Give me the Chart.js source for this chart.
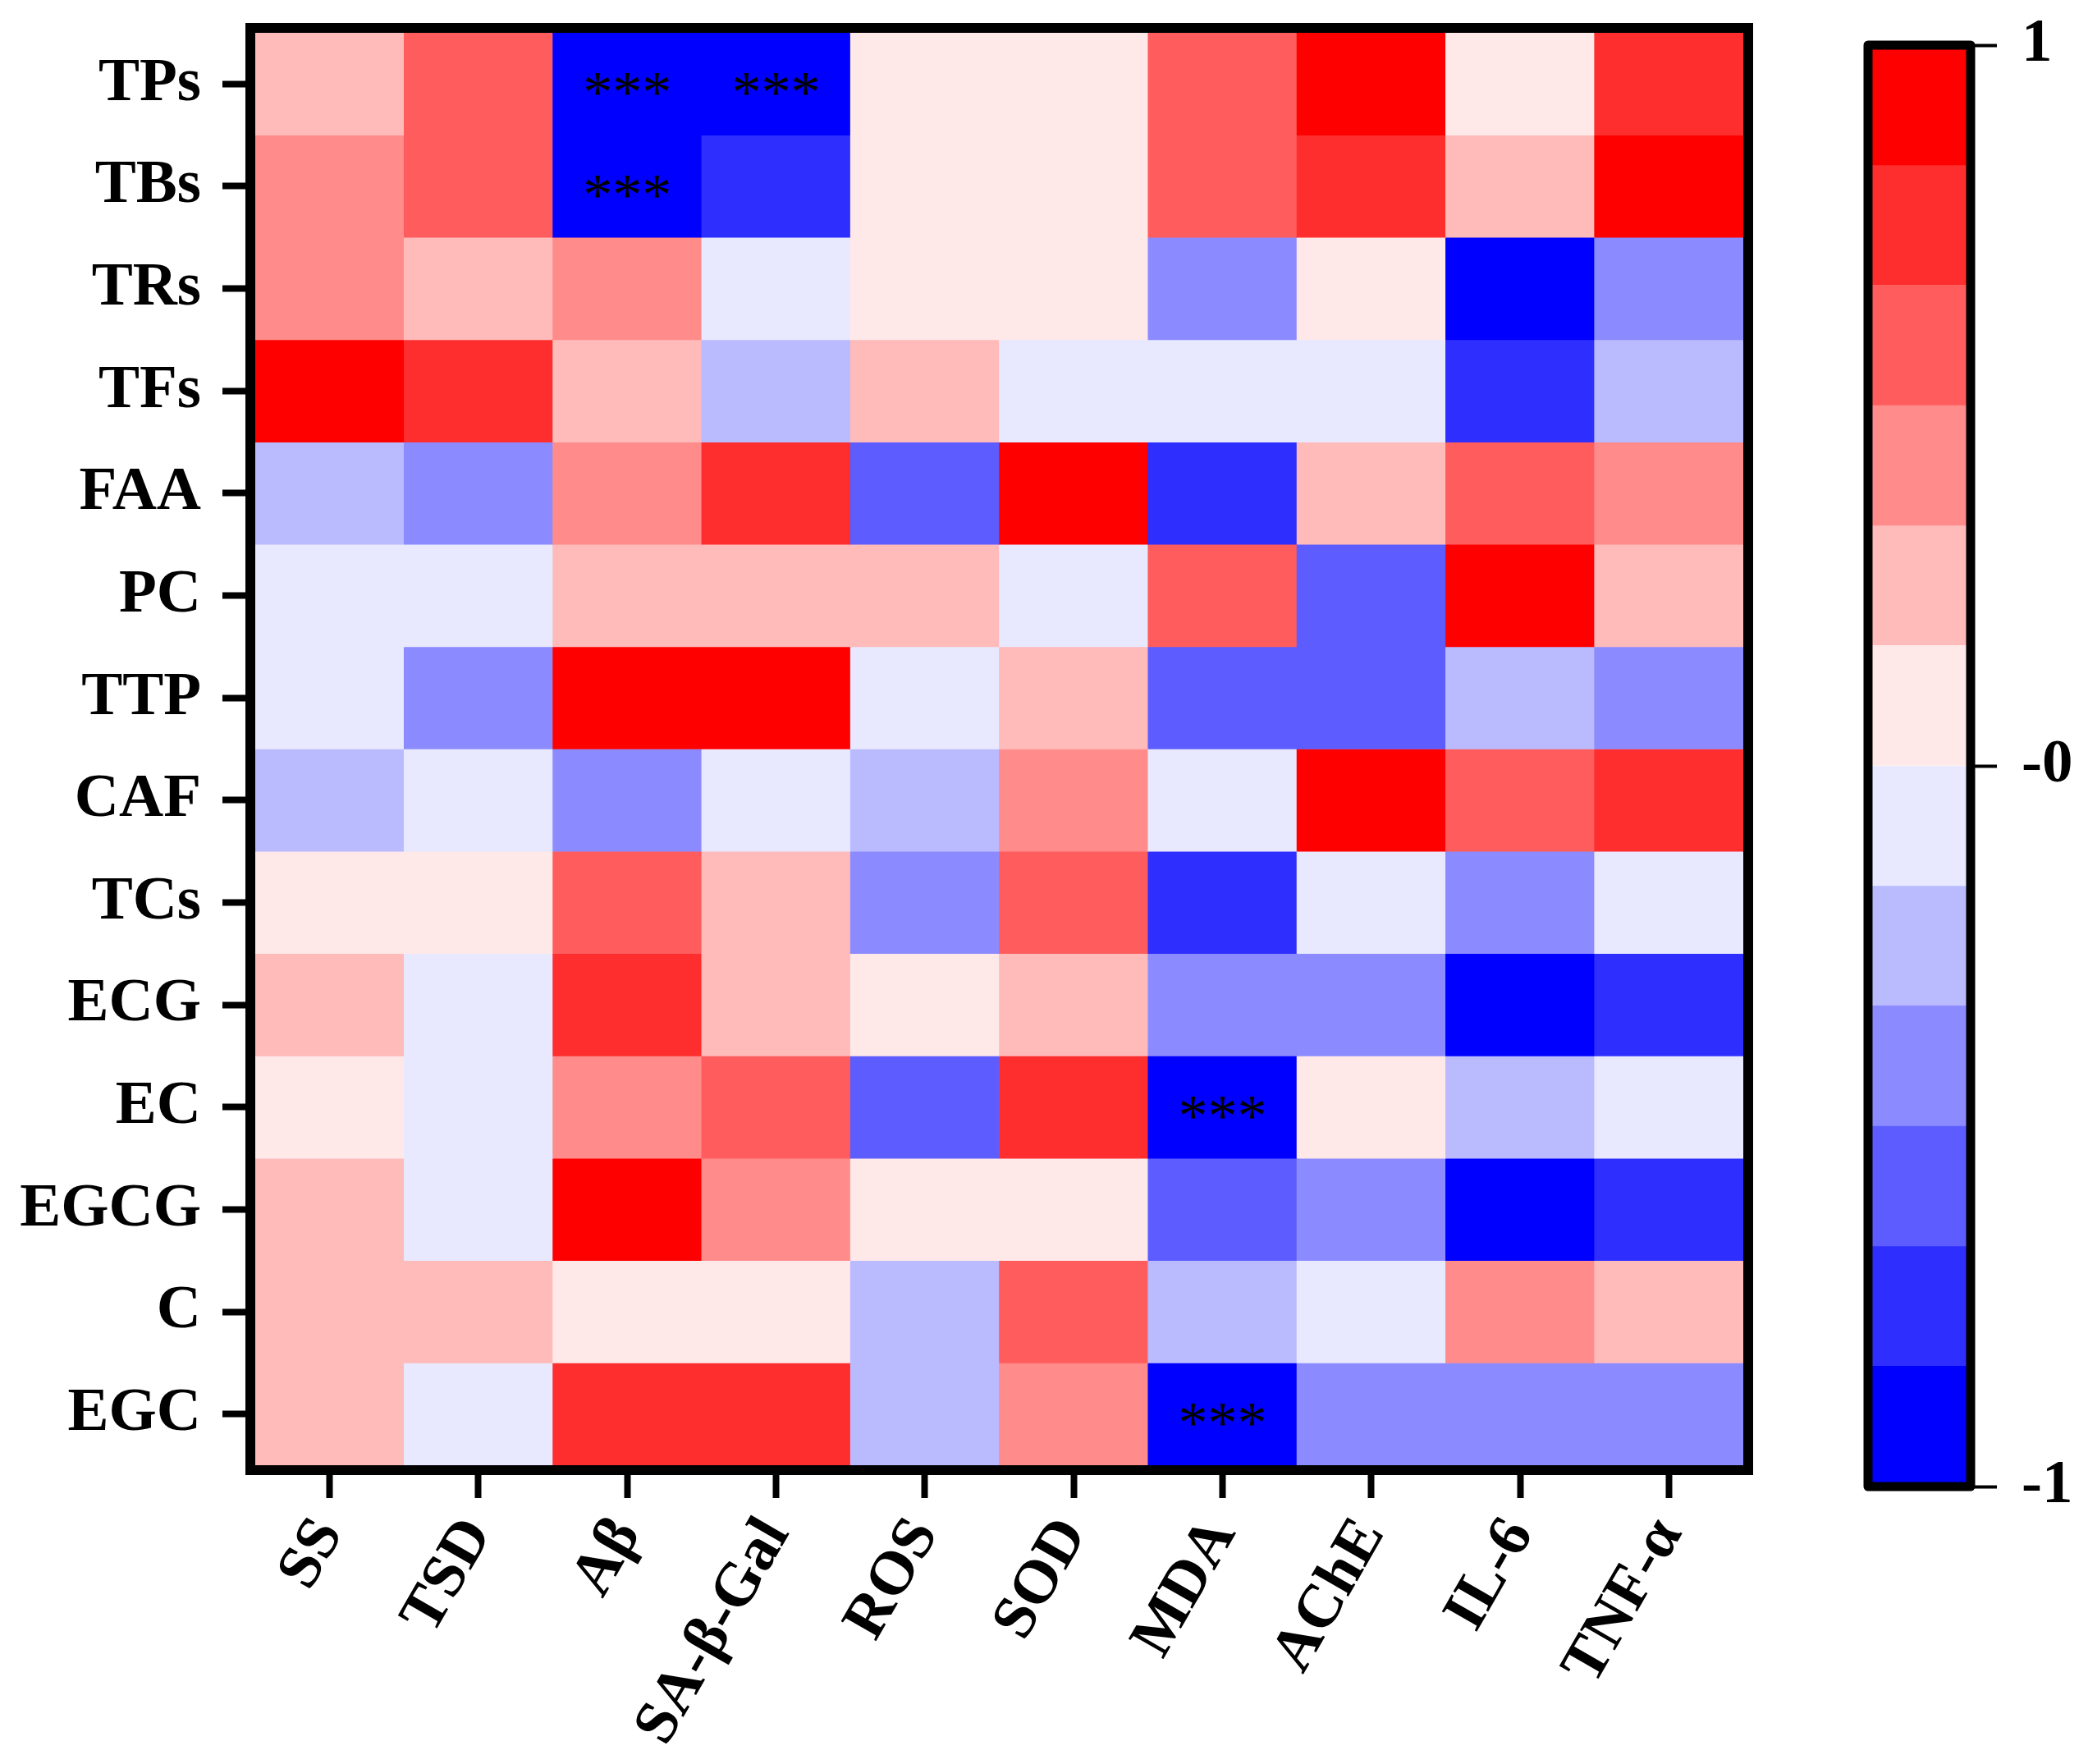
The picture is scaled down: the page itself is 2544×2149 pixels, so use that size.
<!DOCTYPE html>
<html>
<head>
<meta charset="utf-8">
<script src="https://cdn.jsdelivr.net/npm/chart.js@4.4.1/dist/chart.umd.min.js"></script>
<style>
  html, body { margin: 0; padding: 0; background: #fff; }
  #wrap { position: relative; width: 2544px; height: 2149px; }
  #heat { position: absolute; left: 0; top: 0; }
  #bar { position: absolute; left: 2200px; top: 0; }
</style>
</head>
<body>
<div id="wrap">
  <canvas id="heat" width="2200" height="2149"></canvas>
  <canvas id="bar" width="344" height="2149"></canvas>
</div>
<script>
const rowLabels = ['TPs', 'TBs', 'TRs', 'TFs', 'FAA', 'PC', 'TTP', 'CAF', 'TCs', 'ECG', 'EC', 'EGCG', 'C', 'EGC'];
const colLabels = ['SS', 'TSD', 'Aβ', 'SA-β-Gal', 'ROS', 'SOD', 'MDA', 'AChE', 'IL-6', 'TNF-α'];

// correlation of each row with the columns above
const TPs  = [0.25, 0.58, -0.92, -0.92, 0.08, 0.08, 0.58, 0.92, 0.08, 0.75];
const TBs  = [0.42, 0.58, -0.92, -0.75, 0.08, 0.08, 0.58, 0.75, 0.25, 0.92];
const TRs  = [0.42, 0.25, 0.42, -0.08, 0.08, 0.08, -0.42, 0.08, -0.92, -0.42];
const TFs  = [0.92, 0.75, 0.25, -0.25, 0.25, -0.08, -0.08, -0.08, -0.75, -0.25];
const FAA  = [-0.25, -0.42, 0.42, 0.75, -0.58, 0.92, -0.75, 0.25, 0.58, 0.42];
const PC   = [-0.08, -0.08, 0.25, 0.25, 0.25, -0.08, 0.58, -0.58, 0.92, 0.25];
const TTP  = [-0.08, -0.42, 0.92, 0.92, -0.08, 0.25, -0.58, -0.58, -0.25, -0.42];
const CAF  = [-0.25, -0.08, -0.42, -0.08, -0.25, 0.42, -0.08, 0.92, 0.58, 0.75];
const TCs  = [0.08, 0.08, 0.58, 0.25, -0.42, 0.58, -0.75, -0.08, -0.42, -0.08];
const ECG  = [0.25, -0.08, 0.75, 0.25, 0.08, 0.25, -0.42, -0.42, -0.92, -0.75];
const EC   = [0.08, -0.08, 0.42, 0.58, -0.58, 0.75, -0.92, 0.08, -0.25, -0.08];
const EGCG = [0.25, -0.08, 0.92, 0.42, 0.08, 0.08, -0.58, -0.42, -0.92, -0.75];
const C    = [0.25, 0.25, 0.08, 0.08, -0.25, 0.58, -0.25, -0.08, 0.42, 0.25];
const EGC  = [0.25, -0.08, 0.75, 0.75, -0.25, 0.42, -0.92, -0.42, -0.42, -0.42];
const matrix = [TPs, TBs, TRs, TFs, FAA, PC, TTP, CAF, TCs, ECG, EC, EGCG, C, EGC];

// significant cells
const starCells = [['TPs', 'Aβ'], ['TPs', 'SA-β-Gal'], ['TBs', 'Aβ'], ['EC', 'MDA'], ['EGC', 'MDA']];

// colour scale: 12 bins from -1 to 1
const levelEdges = [-1, -0.833, -0.667, -0.5, -0.333, -0.167, 0, 0.167, 0.333, 0.5, 0.667, 0.833, 1];
const levelColors = ['#0000FF', '#2E2EFF', '#5D5DFF', '#8B8BFF', '#BABAFF', '#E8E8FF',
                     '#FFE8E8', '#FFBABA', '#FF8B8B', '#FF5D5D', '#FF2E2E', '#FF0000'];
const barTicks = [-1, 0, 1];
const barTickLabels = ['-1', '-0', '1'];

const labelFont = { family: '"Liberation Serif", "Times New Roman", serif', size: 75, weight: 'bold' };

function levelColor(v) {
    for (let k = 0; k < levelColors.length; k++) {
        if (v < levelEdges[k + 1]) return levelColors[k];
    }
    return levelColors[levelColors.length - 1];
}

// keep label half-heights from pushing the plot area around
function noEdgePadding(s) {
    s.paddingTop = 0;
    s.paddingBottom = 0;
    s.paddingLeft = 0;
    s.paddingRight = 0;
}

const frame = {
    id: 'frame',
    afterDatasetsDraw(chart, args, opts) {
        const { ctx, chartArea: a } = chart;
        const o = opts.outset || 0;
        ctx.save();
        ctx.lineWidth = opts.width;
        ctx.strokeStyle = '#000';
        ctx.lineJoin = opts.join || 'miter';
        ctx.strokeRect(a.left - o, a.top - o, a.right - a.left + 2 * o, a.bottom - a.top + 2 * o);
        ctx.restore();
    }
};

const stars = {
    id: 'stars',
    afterDatasetsDraw(chart) {
        const { ctx } = chart;
        const xs = chart.scales.x, ys = chart.scales.y;
        ctx.save();
        ctx.fillStyle = '#000';
        ctx.font = '72px "Liberation Serif", serif';
        ctx.textAlign = 'center';
        ctx.textBaseline = 'alphabetic';
        starCells.forEach(([r, c]) => {
            const px = xs.getPixelForValue(colLabels.indexOf(c));
            const py = ys.getPixelForValue(rowLabels.indexOf(r) + 0.5);
            ctx.fillText('***', px, py + 34);
        });
        ctx.restore();
    }
};

new Chart(document.getElementById('heat'), {
    type: 'bar',
    data: {
        labels: colLabels,
        datasets: rowLabels.map((name, i) => ({
            label: name,
            data: colLabels.map(() => [i, i + 1]),
            backgroundColor: matrix[i].map(levelColor),
            borderWidth: 0,
            grouped: false,
            barPercentage: 1,
            categoryPercentage: 1
        }))
    },
    options: {
        responsive: false,
        animation: false,
        devicePixelRatio: 1,
        layout: { padding: { top: 40, right: 76, left: 0, bottom: 0 } },
        plugins: {
            legend: { display: false },
            tooltip: { enabled: false },
            frame: { width: 12, outset: 6 }
        },
        scales: {
            x: {
                grid: { offset: false, drawOnChartArea: false, tickLength: 40, tickWidth: 8, tickColor: '#000' },
                border: { display: false },
                ticks: { color: '#000', font: labelFont, minRotation: 60, maxRotation: 60, padding: 10, autoSkip: false },
                afterFit: s => { s.height = 364; noEdgePadding(s); }
            },
            y: {
                min: 0,
                max: 14,
                reverse: true,
                grid: { drawOnChartArea: false, tickLength: 40, tickWidth: 8, tickColor: '#000' },
                border: { display: false },
                ticks: { color: '#000', font: labelFont, padding: 26, autoSkip: false,
                         callback: (v, i) => rowLabels[i] },
                afterBuildTicks: s => { s.ticks = rowLabels.map((_, i) => ({ value: i + 0.5 })); },
                afterFit: s => { s.width = 311; noEdgePadding(s); }
            }
        }
    },
    plugins: [frame, stars]
});

new Chart(document.getElementById('bar'), {
    type: 'bar',
    data: {
        labels: [''],
        datasets: levelColors.map((col, k) => ({
            data: [[levelEdges[k], levelEdges[k + 1]]],
            backgroundColor: col,
            borderWidth: 0,
            grouped: false,
            barPercentage: 1,
            categoryPercentage: 1
        }))
    },
    options: {
        responsive: false,
        animation: false,
        devicePixelRatio: 1,
        layout: { padding: { top: 55, bottom: 338, left: 76, right: 0 } },
        plugins: {
            legend: { display: false },
            tooltip: { enabled: false },
            frame: { width: 11, outset: 0, join: 'round' }
        },
        scales: {
            x: { display: false },
            y: {
                position: 'right',
                min: -1,
                max: 1,
                grid: { drawOnChartArea: false, tickLength: 32, tickWidth: 4, tickColor: '#000' },
                border: { display: false },
                ticks: { color: '#000', font: labelFont, padding: 30,
                         callback: (v, i) => barTickLabels[i] },
                afterBuildTicks: s => { s.ticks = barTicks.map(v => ({ value: v })); },
                afterFit: s => { s.width = 143; noEdgePadding(s); }
            }
        }
    },
    plugins: [frame]
});
</script>
</body>
</html>
